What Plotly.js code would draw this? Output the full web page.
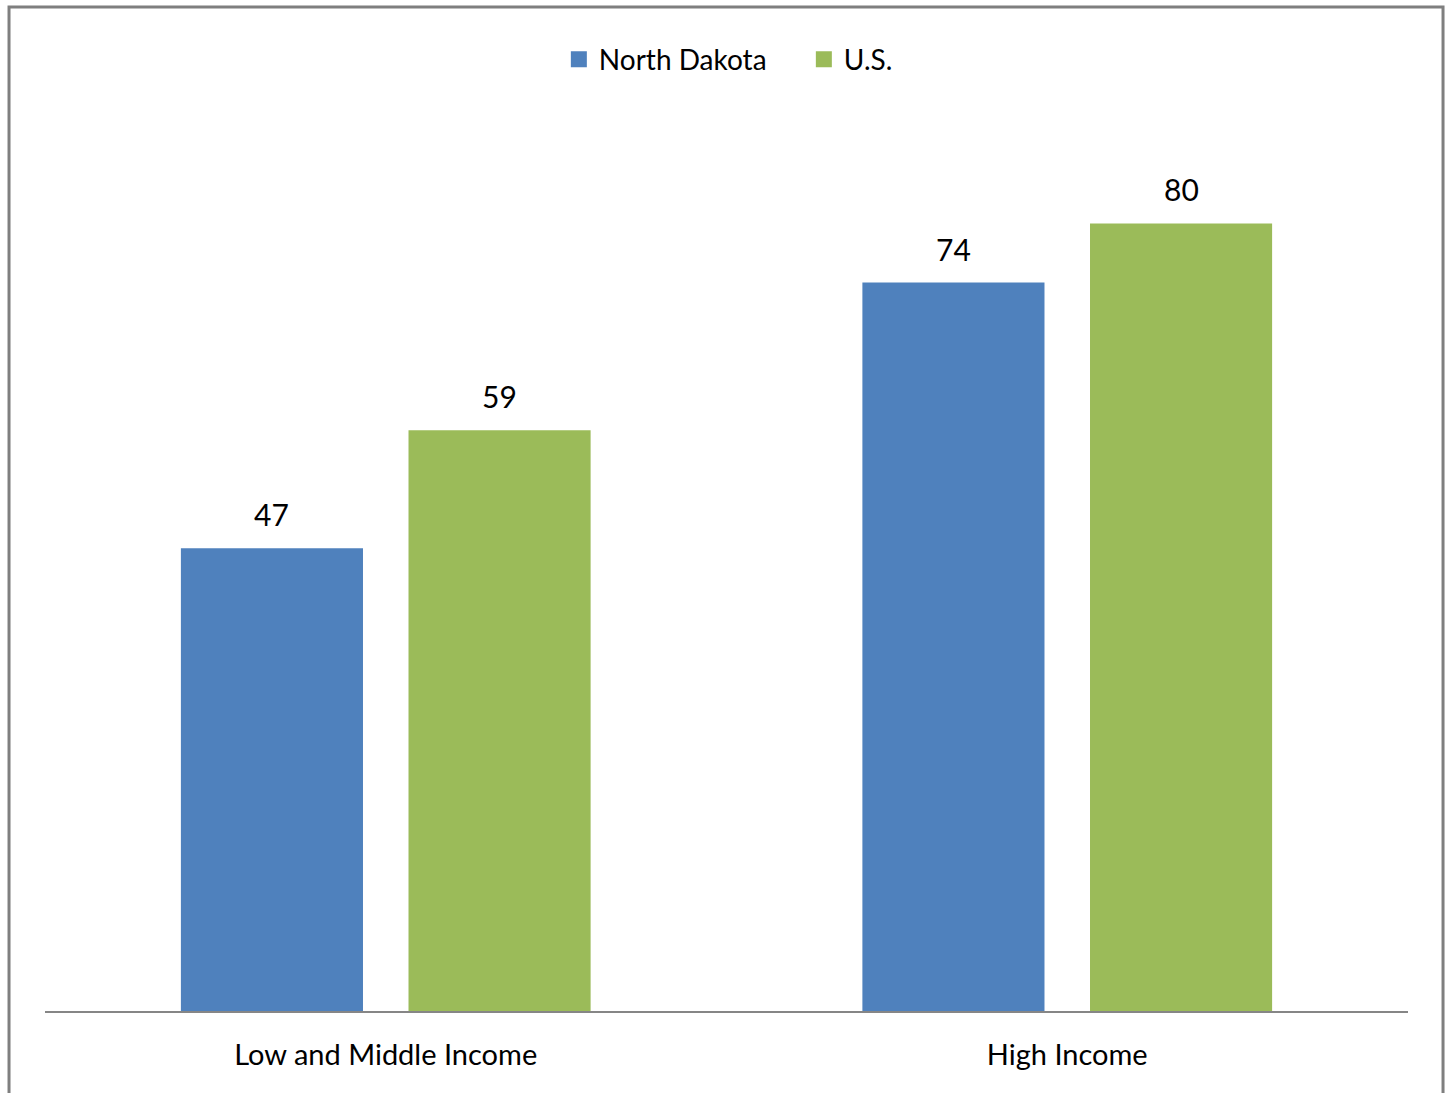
<!DOCTYPE html>
<html>
<head>
<meta charset="utf-8">
<script src="https://cdn.plot.ly/plotly-3.0.1.min.js"></script>
<style>
  body { margin: 0; background: #fff; }
  #myDiv { width: 1452px; height: 1093px; }
</style>
</head>
<body>
<div id="myDiv"></div>
<script>
  var categories = ['Low and Middle Income', 'High Income'];
  var northDakota = [47, 74];
  var us = [59, 80];
  var seriesNames = ['North Dakota', 'U.S.'];
  var seriesColors = ['#4F81BD', '#9BBB59'];

  var trace1 = {
    x: categories,
    y: northDakota,
    type: 'bar',
    name: seriesNames[0],
    marker: { color: seriesColors[0] },
    showlegend: false,
    hoverinfo: 'none'
  };

  var trace2 = {
    x: categories,
    y: us,
    type: 'bar',
    name: seriesNames[1],
    marker: { color: seriesColors[1] },
    showlegend: false,
    hoverinfo: 'none'
  };

  // legend-only entries so the legend squares can be bigger
  var legend1 = {
    x: [categories[0]], y: [null],
    type: 'scatter', mode: 'markers',
    name: seriesNames[0],
    marker: { symbol: 'square', size: 16, color: seriesColors[0] },
    hoverinfo: 'none'
  };
  var legend2 = {
    x: [categories[0]], y: [null],
    type: 'scatter', mode: 'markers',
    name: seriesNames[1],
    marker: { symbol: 'square', size: 16, color: seriesColors[1] },
    hoverinfo: 'none'
  };

  var data = [trace1, trace2, legend1, legend2];

  // value labels above each bar (offset left/right inside the group)
  var labels = [];
  var allSeries = [northDakota, us];
  for (var s = 0; s < allSeries.length; s++) {
    for (var i = 0; i < categories.length; i++) {
      labels.push({
        x: i + (s === 0 ? -0.167 : 0.167),
        y: allSeries[s][i],
        xref: 'x', yref: 'y',
        text: String(allSeries[s][i]),
        showarrow: false,
        yanchor: 'bottom',
        yshift: 14,
        font: { family: 'Lato, sans-serif', size: 30, color: '#000' }
      });
    }
  }

  var layout = {
    width: 1452,
    height: 1093,
    margin: { l: 45, r: 44, t: 125, b: 82 },
    paper_bgcolor: '#fff',
    plot_bgcolor: '#fff',
    font: { family: 'Lato, sans-serif', color: '#000' },
    barmode: 'group',
    bargap: 0.332,
    bargroupgap: 0.2,
    showlegend: true,
    legend: {
      orientation: 'h',
      x: 0.377, xanchor: 'left',
      y: 1.074, yanchor: 'middle',
      font: { size: 28, color: '#000' },
      itemwidth: 30,
      entrywidth: 200,
      traceorder: 'normal'
    },
    xaxis: {
      showline: true,
      linecolor: '#868686',
      linewidth: 1.5,
      showgrid: false,
      zeroline: false,
      ticks: 'outside',
      ticklen: 17,
      tickcolor: 'rgba(0,0,0,0)',
      tickfont: { size: 29, color: '#000' }
    },
    yaxis: {
      range: [0, 90],
      visible: false
    },
    annotations: labels,
    shapes: [{
      type: 'rect',
      xref: 'paper', yref: 'paper',
      x0: -0.0264, x1: 1.0257,
      y0: -0.2, y1: 1.1332,
      line: { color: '#7f7f7f', width: 3 }
    }]
  };

  Plotly.newPlot('myDiv', data, layout, { displayModeBar: false });
</script>
</body>
</html>
